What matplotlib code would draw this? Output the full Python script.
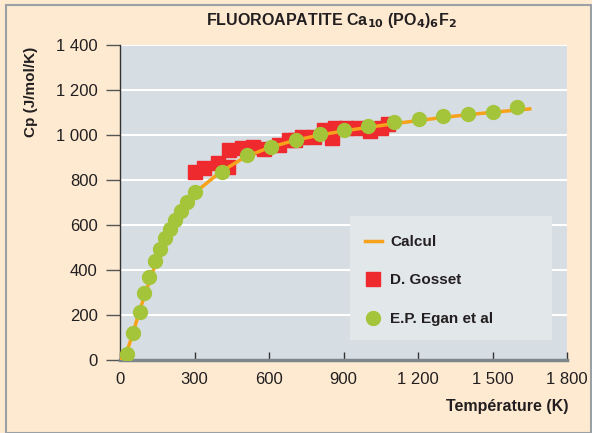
import matplotlib.pyplot as plt
from matplotlib.patches import Rectangle

plt.rcParams["font.family"] = ["Liberation Sans", "DejaVu Sans"]

# Calculated Cp curve
calc_t = [0, 25, 50, 75, 100, 150, 200, 250, 300, 400, 500, 600, 700, 800,
          900, 1000, 1100, 1200, 1300, 1400, 1500, 1650]
calc_cp = [0, 30, 110, 205, 290, 450, 578, 668, 742, 832, 900, 944, 975, 999,
           1018, 1034, 1050, 1064, 1078, 1090, 1101, 1116]

# D. Gosset measurements
gosset_t = [300, 340, 395, 436, 440, 490, 534, 579, 641, 681, 705, 732, 781,
            822, 855, 866, 910, 957, 1007, 1051, 1081]
gosset_cp = [834, 852, 874, 859, 933, 941, 948, 937, 955, 978, 978, 993, 992,
             1022, 988, 1030, 1030, 1030, 1020, 1030, 1048]

# E.P. Egan et al measurements
egan_t = [30, 54, 79, 97, 117, 140, 162, 181, 200, 221, 246, 269, 300, 410,
          510, 607, 708, 806, 902, 1000, 1102, 1203, 1302, 1403, 1501, 1598]
egan_cp = [25, 121, 213, 298, 370, 441, 492, 541, 582, 622, 662, 704, 747, 837,
           911, 948, 978, 1003, 1022, 1041, 1057, 1071, 1086, 1095, 1104, 1126]

x_ticks = [0, 300, 600, 900, 1200, 1500, 1800]
x_labels = ["0", "300", "600", "900", "1 200", "1 500", "1 800"]
y_ticks = [0, 200, 400, 600, 800, 1000, 1200, 1400]
y_labels = ["0", "200", "400", "600", "800", "1 000", "1 200", "1 400"]

W, H = 592, 433
fig = plt.figure(figsize=(W / 100, H / 100), dpi=100)
fig.patch.set_facecolor("#fdead1")
fig.patches.append(Rectangle((6 / W, 0), 1 - 7 / W, 1 - 5 / H,
                             transform=fig.transFigure, fill=False,
                             edgecolor="#9aa0a4", linewidth=1.5))

ax = fig.add_axes([120 / W, 1 - 360 / H, 447 / W, 315 / H])
ax.set_facecolor("#d6dee3")

ax.plot(gosset_t, gosset_cp, linestyle="none", marker="s", markersize=9.5,
        color="#ee2a2e", label="D. Gosset", zorder=3)
ax.plot(calc_t, calc_cp, color="#f7a21b", linewidth=2.5, label="Calcul",
        zorder=4)
ax.plot(egan_t, egan_cp, linestyle="none", marker="o", markersize=10,
        color="#a4c53a", label="E.P. Egan et al", zorder=5)

ax.set_xlim(0, 1800)
ax.set_ylim(0, 1400)
ax.set_xticks(x_ticks)
ax.set_xticklabels(x_labels)
ax.set_yticks(y_ticks)
ax.set_yticklabels(y_labels)
ax.yaxis.grid(True, color="white", linewidth=1.5)
ax.set_axisbelow(True)

for side in ["top", "right"]:
    ax.spines[side].set_visible(False)
ax.spines["left"].set_color("#333333")
ax.spines["left"].set_linewidth(1)
ax.spines["bottom"].set_color("#7d868b")
ax.spines["bottom"].set_linewidth(2.5)

ax.tick_params(axis="x", direction="in", length=6, width=1, color="#333333",
               labelsize=12, labelcolor="#231f20", pad=9)
ax.tick_params(axis="y", direction="out", length=10, width=1, color="#555555",
               labelsize=12, labelcolor="#231f20", pad=6)

fig.text(331 / W, 1 - 21 / H,
         r"FLUOROAPATITE Ca$_{\mathbf{10}}$ (PO$_{\mathbf{4}}$)$_{\mathbf{6}}$F$_{\mathbf{2}}$",
         ha="center", va="center", fontsize=11.5, fontweight="bold",
         color="#231f20")
fig.text(31 / W, 1 - 92 / H, "Cp (J/mol/K)", rotation=90, ha="center",
         va="center", fontsize=11, fontweight="bold", color="#231f20")
fig.text(568 / W, 1 - 407 / H, "Température (K)", ha="right", va="center",
         fontsize=11.5, fontweight="bold", color="#231f20")

# legend panel
fig.patches.append(Rectangle((350 / W, 1 - 340 / H), 202 / W, 124 / H,
                             transform=fig.transFigure, facecolor="#e2e7ea",
                             edgecolor="none", zorder=2))
handles, labels = ax.get_legend_handles_labels()
order = [1, 0, 2]
leg = fig.legend([handles[i] for i in order], [labels[i] for i in order],
                 loc="upper left", bbox_to_anchor=(365 / W, 1 - 235 / H),
                 frameon=False, handlelength=1.1, handletextpad=0.55,
                 labelspacing=1.6, borderpad=0, borderaxespad=0,
                 prop={"weight": "bold", "size": 11})
for text in leg.get_texts():
    text.set_color("#231f20")

fig.savefig("out.png", dpi=100, facecolor=fig.get_facecolor())
